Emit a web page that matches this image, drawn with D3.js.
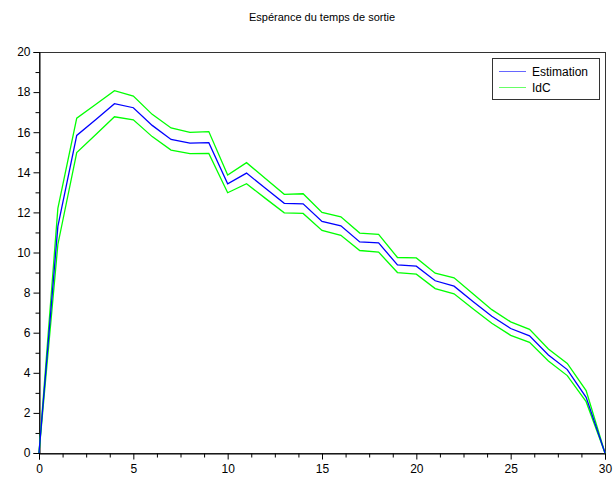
<!DOCTYPE html>
<html>
<head>
    <meta charset="utf-8">
    <script src="https://d3js.org/d3.v7.min.js"></script>
    <style>
        body { margin: 0; background: #fff; }
        text { font-family: "Liberation Sans", Arial, sans-serif; fill: #000; }
    </style>
</head>
<body>
<script>
    // Data
    let steps = d3.range(0, 31);
    let estimation = [0, 11.3, 15.84, 16.62, 17.42, 17.22, 16.34, 15.64, 15.46, 15.48,
        13.43, 13.96, 13.2, 12.45, 12.43, 11.55, 11.33, 10.53, 10.48, 9.38,
        9.32, 8.59, 8.32, 7.56, 6.82, 6.21, 5.84, 4.89, 4.16, 2.78, 0];
    let idcHigh = [0, 12.2, 16.7, 17.38, 18.07, 17.8, 16.89, 16.21, 15.99, 16.03,
        13.86, 14.48, 13.69, 12.9, 12.93, 12.0, 11.78, 10.97, 10.9, 9.75,
        9.73, 8.97, 8.74, 7.94, 7.15, 6.54, 6.17, 5.19, 4.47, 3.11, 0];
    let idcLow = [0, 10.4, 14.98, 15.87, 16.77, 16.62, 15.78, 15.11, 14.93, 14.94,
        12.98, 13.43, 12.7, 11.98, 11.95, 11.1, 10.86, 10.1, 10.02, 9.0,
        8.92, 8.2, 7.94, 7.2, 6.47, 5.87, 5.52, 4.59, 3.86, 2.56, 0];
    let xTicks = [0, 5, 10, 15, 20, 25, 30];
    let yTicks = [0, 2, 4, 6, 8, 10, 12, 14, 16, 18, 20];

    let width = 613, height = 479;
    let plotLeft = 39, plotRight = 605, plotTop = 52, plotBottom = 453;

    let svg = d3.select("body").append("svg")
        .attr("width", width)
        .attr("height", height);

    let x = d3.scaleLinear().domain([0, 30]).range([plotLeft, plotRight]);
    let y = d3.scaleLinear().domain([0, 20]).range([plotBottom, plotTop]);

    // Title
    svg.append("text")
        .attr("x", 322)
        .attr("y", 21)
        .attr("text-anchor", "middle")
        .style("font-size", "11px")
        .text("Espérance du temps de sortie");

    // Frame
    svg.append("rect")
        .attr("x", plotLeft + 0.5)
        .attr("y", plotTop + 0.5)
        .attr("width", plotRight - plotLeft)
        .attr("height", plotBottom - plotTop)
        .attr("fill", "none")
        .attr("stroke", "#333")
        .attr("stroke-width", 1);

    // X axis: major ticks every 5, minor every 1.25
    let xMinor = d3.range(0, 30.01, 1.25).filter(v => v % 5 !== 0);
    let xAxisG = svg.append("g").attr("transform", "translate(0," + (plotBottom + 0.5) + ")");
    xAxisG.call(d3.axisBottom(x).tickValues(xTicks).tickSize(6).tickPadding(5).tickFormat(d3.format("d")));
    xAxisG.selectAll(".minor").data(xMinor).enter().append("line")
        .attr("class", "minor")
        .attr("x1", d => x(d) + 0.5).attr("x2", d => x(d) + 0.5)
        .attr("y1", 0).attr("y2", 4)
        .attr("stroke", "#000");

    // Y axis: major ticks every 2, minor every 1
    let yMinor = d3.range(1, 20, 2);
    let yAxisG = svg.append("g").attr("transform", "translate(" + (plotLeft + 0.5) + ",0)");
    yAxisG.call(d3.axisLeft(y).tickValues(yTicks).tickSize(6).tickPadding(3).tickFormat(d3.format("d")));
    yAxisG.selectAll(".minor").data(yMinor).enter().append("line")
        .attr("class", "minor")
        .attr("y1", d => y(d) + 0.5).attr("y2", d => y(d) + 0.5)
        .attr("x1", 0).attr("x2", -4)
        .attr("stroke", "#000");

    svg.selectAll(".domain").attr("stroke", "#000");
    svg.selectAll(".tick text").style("font-size", "12px").attr("fill", "#000");

    // Lines
    let line = d3.line()
        .x((d, i) => x(steps[i]))
        .y(d => y(d));

    [[idcHigh, "#00ff00"], [idcLow, "#00ff00"], [estimation, "#0000ff"]].forEach(function(s) {
        svg.append("path")
            .datum(s[0])
            .attr("d", line)
            .attr("fill", "none")
            .attr("stroke", s[1])
            .attr("stroke-width", 1.3);
    });

    // Legend
    let legend = svg.append("g");
    legend.append("rect")
        .attr("x", 492.5).attr("y", 58.5)
        .attr("width", 107).attr("height", 41)
        .attr("fill", "#fff")
        .attr("stroke", "#333");
    let legendItems = [["Estimation", "#0000ff"], ["IdC", "#00ff00"]];
    legendItems.forEach(function(item, i) {
        let ly = 71.5 + i * 16;
        legend.append("line")
            .attr("x1", 499).attr("x2", 526)
            .attr("y1", ly).attr("y2", ly)
            .attr("stroke", item[1])
            .attr("stroke-opacity", 0.6);
        legend.append("text")
            .attr("x", 532)
            .attr("y", ly + 4)
            .style("font-size", "12px")
            .text(item[0]);
    });
</script>
</body>
</html>
